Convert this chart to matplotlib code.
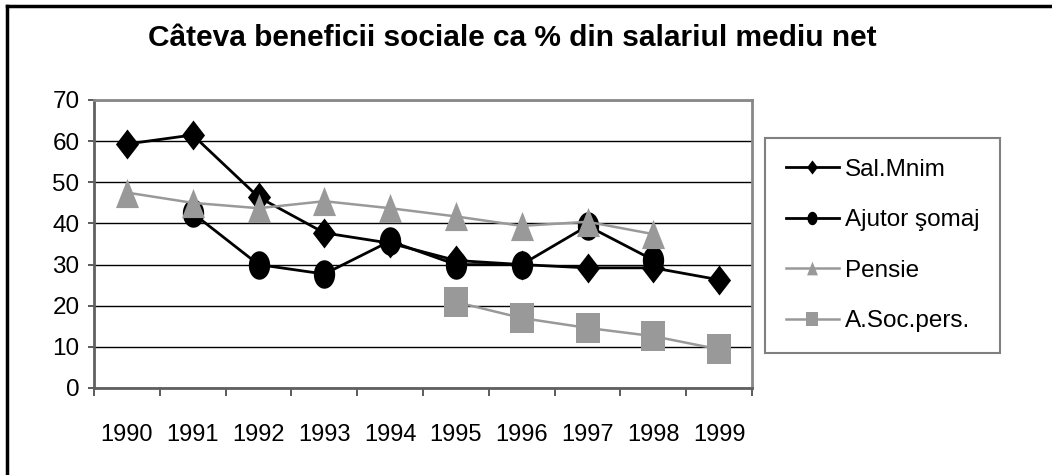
import numpy as np
import matplotlib
matplotlib.use("Agg")
import matplotlib.pyplot as plt
from matplotlib.lines import Line2D

years = ["1990", "1991", "1992", "1993", "1994", "1995", "1996", "1997", "1998", "1999"]
sal_minim = [59.3, 61.5, 46.4, 37.7, 35.2, 31.0, 30.0, 29.2, 29.2, 26.3]
ajutor_somaj = [None, 42.5, 30.0, 27.7, 35.7, 30.0, 30.0, 39.4, 31.1, None]
pensie = [47.5, 45.0, 43.7, 45.4, 43.7, 41.7, 39.4, 40.4, 37.4, None]
asoc_pers = [None, None, None, None, None, 20.9, 17.0, 14.6, 12.6, 9.4]
labels = ["Sal.Mnim", "Ajutor şomaj", "Pensie", "A.Soc.pers."]
title = "Câteva beneficii sociale ca % din salariul mediu net"

font = ["Liberation Sans", "DejaVu Sans"]

def arr(v):
    return np.array([np.nan if a is None else a for a in v], dtype=float)

# marker shapes, a bit taller than wide like in the original
diamond = [(0, 1), (0.77, 0), (0, -1), (-0.77, 0), (0, 1)]
t = np.linspace(0, 2 * np.pi, 60)
ellipse = list(zip(0.75 * np.cos(t), np.sin(t)))
triangle = [(-0.79, -1), (0.79, -1), (0, 1), (-0.79, -1)]
square = [(-0.77, -1), (0.77, -1), (0.77, 1), (-0.77, 1), (-0.77, -1)]

W, H = 1052, 475
fig = plt.figure(figsize=(W / 100, H / 100), dpi=100)
ax = fig.add_axes([94 / W, 1 - 388 / H, (752 - 94) / W, (388 - 100) / H])

x = np.arange(len(years))
gray = "#999999"
styles = [
    (sal_minim, diamond, 21.6, "black", 2.0),
    (ajutor_somaj, ellipse, 20.5, "black", 2.0),
    (pensie, triangle, 21.0, gray, 1.8),
    (asoc_pers, square, 22.0, gray, 1.8),
]
handles = []
for (vals, mk, ms, col, lw), lab in zip(styles, labels):
    y = arr(vals)
    ax.plot(x, y, color=col, linewidth=lw, marker=mk, markersize=ms,
            markerfacecolor=col, markeredgecolor=col, markeredgewidth=0, zorder=3)
    handles.append(Line2D([], [], color=col, linewidth=lw, marker=mk,
                          markersize=ms * 0.47, markerfacecolor=col,
                          markeredgecolor=col, markeredgewidth=0))

ax.set_xlim(-0.5, len(years) - 0.5)
ax.set_ylim(0, 70)
ax.set_yticks(np.arange(0, 71, 10))
ax.yaxis.grid(True, color="black", linewidth=1.0)
ax.set_axisbelow(True)

ax.set_xticks(x)
ax.set_xticklabels(years, family=font, fontsize=17)
ax.set_xticks(np.arange(-0.5, len(years), 1), minor=True)
ax.tick_params(axis="x", which="major", length=0, pad=26)
ax.tick_params(axis="x", which="minor", length=6, width=1.2, color="#404040", direction="out")
ax.tick_params(axis="y", length=4.5, width=1.2, color="#404040", pad=6)
for lab in ax.get_yticklabels():
    lab.set_family(font)
    lab.set_fontsize(17.5)

for side in ["top", "right"]:
    ax.spines[side].set_color("#888888")
    ax.spines[side].set_linewidth(2)
for side in ["left", "bottom"]:
    ax.spines[side].set_color("#606060")
    ax.spines[side].set_linewidth(2)

fig.text(512 / W, 1 - 38 / H, title, ha="center", va="center",
         fontsize=21.5, fontweight="bold", family=font)

leg = fig.legend(handles, labels, loc="upper left",
                 bbox_to_anchor=(765 / W, 1 - 138 / H), borderaxespad=0,
                 prop={"family": font, "size": 17.5}, frameon=True, fancybox=False,
                 edgecolor="#808080", framealpha=1, handlelength=2.2,
                 handletextpad=0.25, labelspacing=1.17, borderpad=0.85)
leg.get_frame().set_linewidth(1.5)

# outer border (top and left edges visible in the original)
fig.add_artist(Line2D([7 / W, 7 / W], [0, 1 - 6 / H], transform=fig.transFigure,
                      color="black", linewidth=2.5))
fig.add_artist(Line2D([7 / W, 1], [1 - 6 / H, 1 - 6 / H], transform=fig.transFigure,
                      color="black", linewidth=2.5))

fig.savefig("out.png", dpi=100)
